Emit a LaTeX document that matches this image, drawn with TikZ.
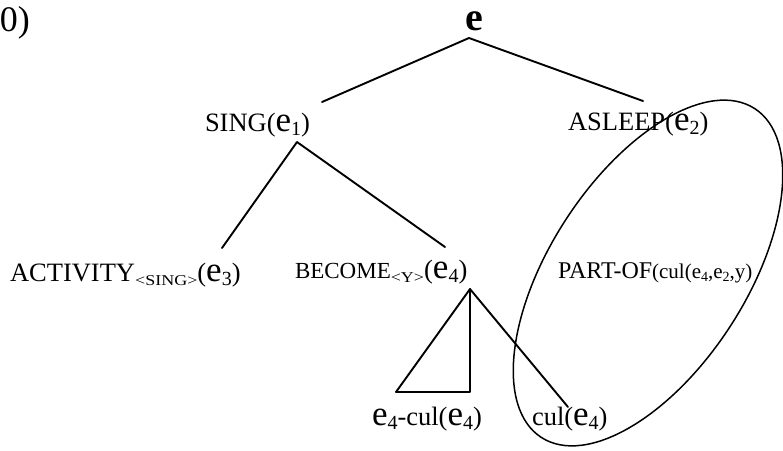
\documentclass[tikz,border=0pt]{standalone}
\usepackage{fontspec}
\setmainfont{Liberation Serif}
\usepackage{graphicx}
\newcommand\fsz[1]{\fontsize{#1}{#1}\selectfont}
\newcommand\eB[1]{{\fsz{35}e}\raisebox{-4.5pt}{\fsz{20}#1}}
\newcommand\eS[1]{{\fsz{21}e}\raisebox{-3pt}{\fsz{14}#1}}
\newcommand\tagsub[1]{\raisebox{-4pt}{\scalebox{1.2}[1]{\fsz{15}#1}}}
\begin{document}
\begin{tikzpicture}[x=1pt,y=-1pt,
  lbl/.style={inner sep=0pt,outer sep=0pt,anchor=base west,font={\fsz{26.5}}},
  branch/.style={line width=1.9pt,line cap=round,line join=round},
  ring/.style={line width=1.5pt}]
\useasboundingbox (0,0) rectangle (783,450);
\node[inner sep=0pt,anchor=base east,font={\fsz{36}}] (num) at (30,31) {(10)};
\node[inner sep=0pt,anchor=base,font={\fsz{40}\bfseries}] (root) at (474.5,30) {e};
\node[lbl] (sing) at (205,131) {SING(\eB{1})};
\node[lbl] (asleep) at (568,130) {ASLEEP(\eB{2})};
\node[lbl] (act) at (10,281) {ACTIVITY\tagsub{<SING>}(\eB{3})};
\node[lbl] (bec) at (295,278) {{\fsz{23}BECOME}\tagsub{<Y>}(\eB{4})};
\node[lbl] (partof) at (558,278) {{\fsz{24}PART-OF}{\fsz{21}(cul(\eS{4},\eS{2},y)}};
\node[lbl] (ecul) at (372,425) {\eB{4}-cul(\eB{4})};
\node[lbl] (cul) at (532,425) {cul(\eB{4})};
\coordinate (rootB) at (469,38);
\coordinate (singT) at (322,102);
\coordinate (asleepT) at (643,101);
\coordinate (singB) at (297,142);
\coordinate (actT) at (222,248);
\coordinate (becT) at (445,247);
\coordinate (becB) at (470,289);
\coordinate (culT) at (568,407);
\coordinate (triL) at (396,392);
\coordinate (triR) at (470,392);
\draw[branch] (singT) -- (rootB) -- (asleepT);
\draw[branch] (actT) -- (singB) -- (becT);
\draw[branch] (becB) -- (culT);
\draw[branch] (becB) -- (triL) -- (triR) -- cycle;
\draw[ring, rotate around={57:(648,273)}] (648,273) ellipse [x radius=196pt, y radius=98pt];
\end{tikzpicture}
\end{document}
